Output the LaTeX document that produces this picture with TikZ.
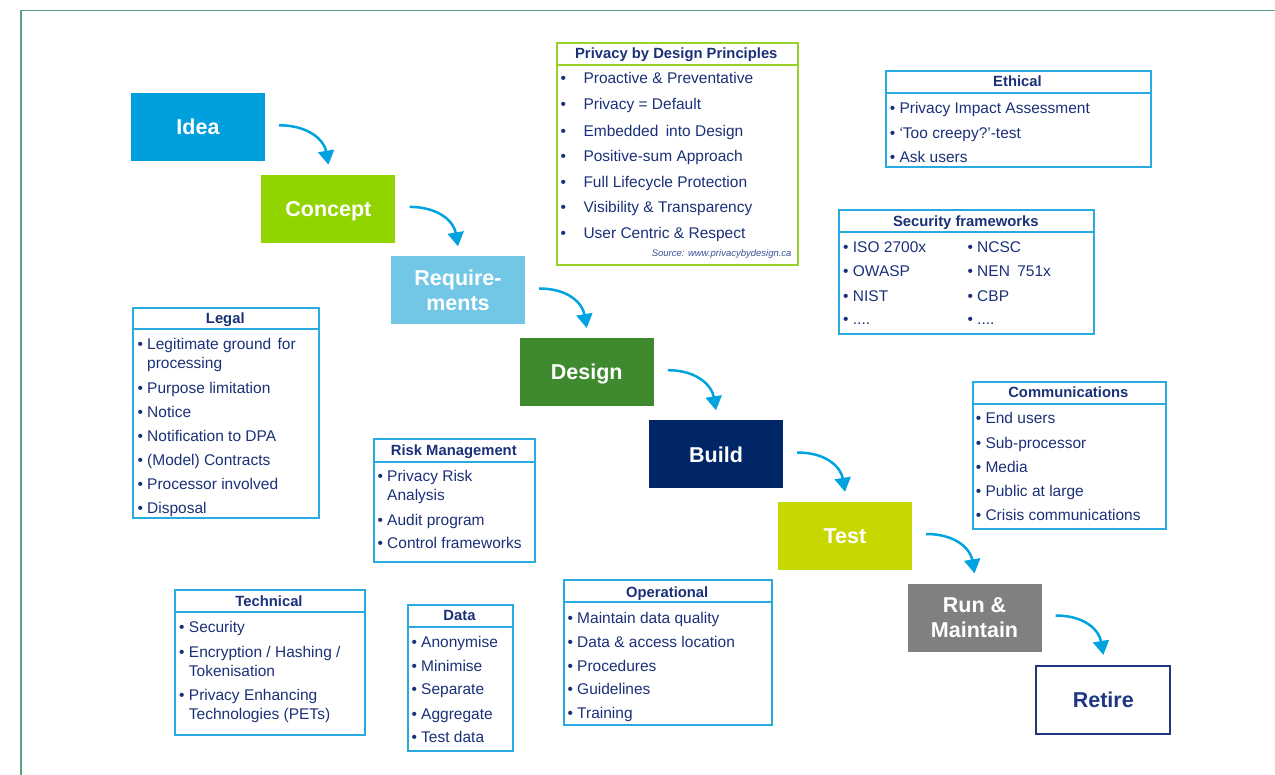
\documentclass[tikz,border=0pt]{standalone}
\usepackage{fontspec}
\setmainfont{Liberation Sans}
\usetikzlibrary{arrows.meta}
\definecolor{cIdea}{RGB}{0,160,223}
\definecolor{cConcept}{RGB}{146,212,0}
\definecolor{cReq}{RGB}{114,199,231}
\definecolor{cDesign}{RGB}{63,138,46}
\definecolor{cBuild}{RGB}{0,38,104}
\definecolor{cTest}{RGB}{198,216,0}
\definecolor{cRun}{RGB}{128,128,128}
\definecolor{navy}{RGB}{26,48,120}
\definecolor{retnavy}{RGB}{30,55,130}
\definecolor{boxblue}{RGB}{41,171,226}
\definecolor{pbdgreen}{RGB}{150,210,40}
\definecolor{arrowblue}{RGB}{0,163,224}
\definecolor{framecol}{RGB}{94,158,126}
\definecolor{srccol}{RGB}{60,80,150}
\tikzset{
  phase/.style={minimum width=134pt, minimum height=68pt, inner sep=0pt, text=white,
    font=\fontsize{21.5}{24.5}\selectfont\bfseries, align=center},
  oneline/.style={text height=15.4pt, text depth=0pt},
  arr/.style={draw=arrowblue, line width=2.5pt, -{Triangle[width=16pt,length=14pt]}},
  ibox/.style={draw=boxblue, line width=2pt, anchor=north west, inner sep=0pt},
  sepline/.style={draw=boxblue, line width=2pt},
  ititle/.style={anchor=center, inner sep=0pt, text=navy, font=\fontsize{14.8}{17}\selectfont\bfseries,
    text height=10.6pt, text depth=0pt},
  itm/.style={anchor=west, inner sep=0pt, text=navy, font=\fontsize{15.5}{18}\selectfont,
    text height=11.1pt, text depth=0pt},
  bul/.style={anchor=center, inner sep=0pt, text=navy, font=\fontsize{15.5}{18}\selectfont,
    text height=11.1pt, text depth=0pt},
}
\begin{document}
\begin{tikzpicture}[x=1pt,y=-1pt]
\useasboundingbox (0,0) rectangle (1275,775);
\draw[framecol, line width=1.5pt] (21,776) -- (21,10.5) -- (1276,10.5);

% phases
\node[phase, oneline, fill=cIdea] (idea) at (198,127.3) {Idea};
\node[phase, oneline, fill=cConcept] (concept) at (328.4,208.9) {Concept};
\node[phase, fill=cReq] (req) at (458,290.5) {Require-\\ments};
\node[phase, oneline, fill=cDesign] (design) at (586.7,372.2) {Design};
\node[phase, oneline, fill=cBuild] (build) at (716,454.5) {Build};
\node[phase, oneline, fill=cTest] (test) at (845,536) {Test};
\node[phase, fill=cRun, font=\fontsize{21.5}{25}\selectfont\bfseries] (run) at (974.5,617.5) {Run \&\\Maintain};
\node[phase, oneline, fill=white, draw=retnavy, line width=2pt, text=retnavy] (retire) at (1103.3,699.9) {Retire};

\foreach \a/\b in {idea/concept, concept/req, req/design, design/build, build/test, test/run, run/retire}{
  \draw[arr] ([xshift=14pt,yshift=2pt]\a.east) .. controls +(30,0) and +(-4,-24) .. ([yshift=10pt]\b.north);
}

% Privacy by Design
\node[ibox, draw=pbdgreen, minimum width=240.7pt, minimum height=222.6pt] (pbd) at (556,41.7) {};
\draw[sepline, draw=pbdgreen] (pbd.west |- 0,65) -- (pbd.east |- 0,65);
\node[ititle] (pbdT) at (676.3,53.3) {Privacy by Design Principles};
\foreach \y/\t [count=\i] in {78.3/Proactive \& Preventative, 104.3/Privacy = Default, 130.7/Embedded\hspace{3pt} into Design, 155.7/Positive-sum Approach, 181.7/Full Lifecycle Protection, 207.3/Visibility \& Transparency, 232.7/User Centric \& Respect}{
  \node[bul] (pbdb\i) at (563.3,\y) {•};
  \node[itm] (pbdi\i) at (583.3,\y) {\t};
}
\node[anchor=east, inner sep=0pt, text=srccol, font=\fontsize{9.5}{11}\selectfont\itshape] (pbdsrc) at (791.7,254) {Source: www.privacybydesign.ca};

% Ethical
\node[ibox, minimum width=265pt, minimum height=96pt] (eth) at (885,70) {};
\draw[sepline] (eth.west |- 0,92.7) -- (eth.east |- 0,92.7);
\node[ititle] (ethT) at (1017.5,81.7) {Ethical};
\node[itm] (eth1) at (889.6,108.3) {• Privacy Impact Assessment};
\node[itm] (eth2) at (889.6,132.7) {• ‘Too creepy?’-test};
\node[itm] (eth3) at (889.6,156.7) {• Ask users};

% Security frameworks
\node[ibox, minimum width=255pt, minimum height=124pt] (sec) at (838.3,209.3) {};
\draw[sepline] (sec.west |- 0,232.3) -- (sec.east |- 0,232.3);
\node[ititle] (secT) at (965.8,221) {Security frameworks};
\node[itm] (sec1) at (843,247.3) {• ISO 2700x};
\node[itm] (sec2) at (843,271.3) {• OWASP};
\node[itm] (sec3) at (843,295.7) {• NIST};
\node[itm] (sec4) at (843,319.3) {• ....};
\node[itm] (sec5) at (967.3,247.3) {• NCSC};
\node[itm] (sec6) at (967.3,271.3) {• NEN\hspace{3pt} 751x};
\node[itm] (sec7) at (967.3,295.7) {• CBP};
\node[itm] (sec8) at (967.3,319.3) {• ....};

% Legal
\node[ibox, minimum width=186pt, minimum height=210.6pt] (legal) at (132.3,306.7) {};
\draw[sepline] (legal.west |- 0,329.3) -- (legal.east |- 0,329.3);
\node[ititle] (legalT) at (225.3,318) {Legal};
\node[itm] (legal1) at (137.3,344.3) {• Legitimate ground\hspace{2pt} for};
\node[itm] (legal1b) at (147,363.3) {processing};
\node[itm] (legal2) at (137.3,388) {• Purpose limitation};
\node[itm] (legal3) at (137.3,411.7) {• Notice};
\node[itm] (legal4) at (137.3,436) {• Notification to DPA};
\node[itm] (legal5) at (137.3,460) {• (Model) Contracts};
\node[itm] (legal6) at (137.3,484) {• Processor involved};
\node[itm] (legal7) at (137.3,508) {• Disposal};

% Risk Management
\node[ibox, minimum width=161pt, minimum height=123.3pt] (risk) at (373.3,437.7) {};
\draw[sepline] (risk.west |- 0,461.7) -- (risk.east |- 0,461.7);
\node[ititle] (riskT) at (453.8,450) {Risk Management};
\node[itm] (risk1) at (377.3,475.7) {• Privacy Risk};
\node[itm] (risk1b) at (387,495) {Analysis};
\node[itm] (risk2) at (377.3,520) {• Audit program};
\node[itm] (risk3) at (377.3,543.3) {• Control frameworks};

% Communications
\node[ibox, minimum width=193.3pt, minimum height=146.7pt] (comm) at (971.7,381) {};
\draw[sepline] (comm.west |- 0,404.3) -- (comm.east |- 0,404.3);
\node[ititle] (commT) at (1068.3,392.3) {Communications};
\node[itm] (comm1) at (975.6,418.3) {• End users};
\node[itm] (comm2) at (975.6,443.3) {• Sub-processor};
\node[itm] (comm3) at (975.6,466.7) {• Media};
\node[itm] (comm4) at (975.6,491) {• Public at large};
\node[itm] (comm5) at (975.6,515) {• Crisis communications};

% Technical
\node[ibox, minimum width=190pt, minimum height=144.7pt] (tech) at (174,589.3) {};
\draw[sepline] (tech.west |- 0,611.7) -- (tech.east |- 0,611.7);
\node[ititle] (techT) at (269,600.7) {Technical};
\node[itm] (tech1) at (179,626.7) {• Security};
\node[itm] (tech2) at (179,651.7) {• Encryption / Hashing /};
\node[itm] (tech2b) at (188.7,670.7) {Tokenisation};
\node[itm] (tech3) at (179,695) {• Privacy Enhancing};
\node[itm] (tech3b) at (188.7,714) {Technologies (PETs)};

% Data
\node[ibox, minimum width=105.6pt, minimum height=146pt] (data) at (406.7,604) {};
\draw[sepline] (data.west |- 0,626.7) -- (data.east |- 0,626.7);
\node[ititle] (dataT) at (459.5,615) {Data};
\node[itm] (data1) at (411.3,641.7) {• Anonymise};
\node[itm] (data2) at (411.3,666) {• Minimise};
\node[itm] (data3) at (411.3,689.3) {• Separate};
\node[itm] (data4) at (411.3,714) {• Aggregate};
\node[itm] (data5) at (411.3,737.3) {• Test data};

% Operational
\node[ibox, minimum width=207.7pt, minimum height=144.7pt] (oper) at (563.3,579.3) {};
\draw[sepline] (oper.west |- 0,602.3) -- (oper.east |- 0,602.3);
\node[ititle] (operT) at (667.2,591.7) {Operational};
\node[itm] (oper1) at (567.3,617.7) {• Maintain data quality};
\node[itm] (oper2) at (567.3,641.7) {• Data \& access location};
\node[itm] (oper3) at (567.3,665.7) {• Procedures};
\node[itm] (oper4) at (567.3,689.3) {• Guidelines};
\node[itm] (oper5) at (567.3,713.3) {• Training};
\end{tikzpicture}
\end{document}
